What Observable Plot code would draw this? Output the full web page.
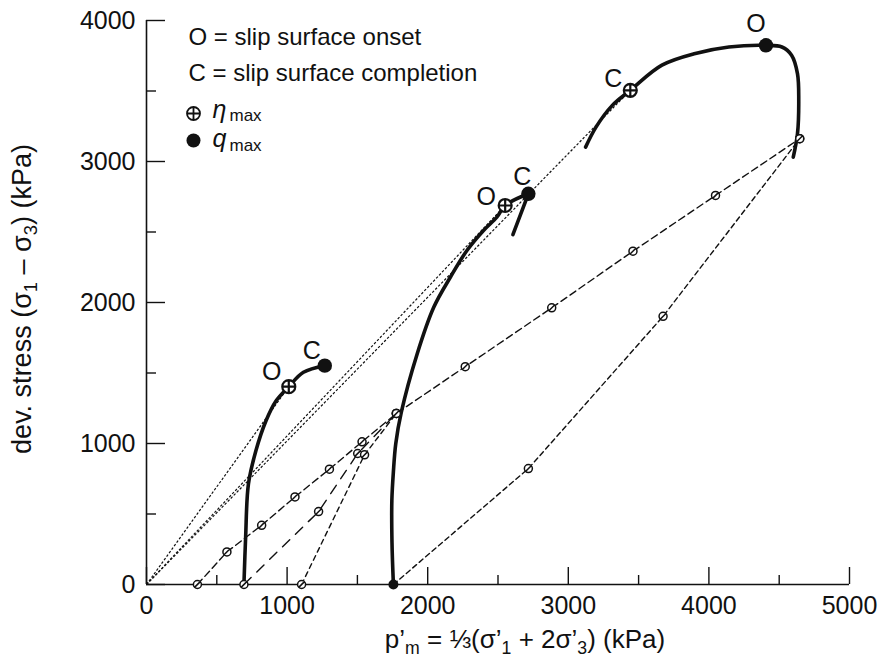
<!DOCTYPE html>
<html><head><meta charset="utf-8">
<script src="https://cdn.jsdelivr.net/npm/d3@7"></script>
<script src="https://cdn.jsdelivr.net/npm/@observablehq/plot@0.6"></script>
<style>
body{margin:0;background:#fff;}
#chart svg{display:block;}
</style>
</head><body><div id="chart"></div>
<script>
// ---- axis ticks ----
const xTicks = [0, 1000, 2000, 3000, 4000, 5000];
const xMinorTicks = [500, 1500, 2500, 3500, 4500];
const yTicks = [0, 1000, 2000, 3000, 4000];
const yMinorTicks = [500, 1500, 2500, 3500];

// ---- undrained stress paths [p'm, q] (thick solid) ----
const undrained1 = [[693,0],[705,333],[725,712],[778,948],[850,1161],[922,1303],[1012,1403],[1116,1505],[1268,1552]];
const undrained2 = [[1756,0],[1746,300],[1745,593],[1756,800],[1773,1000],[1812,1220],[1925,1635],[2043,1966],[2161,2179],[2279,2369],[2397,2511],[2492,2605],[2551,2688],[2716,2771]];
const undrained2Post = [[2716,2771],[2606,2482]];
const undrained3 = [[3123,3102],[3197,3244],[3313,3398],[3441,3505],[3666,3683],[3904,3766],[4142,3812],[4406,3824],[4519,3812],[4588,3754],[4630,3623],[4639,3434],[4630,3197],[4600,3031]];

// ---- markers ----
const etaMax = [[1012,1403],[2551,2688],[3441,3505]];
const qMax = [[1268,1552],[2716,2771],[4406,3824]];
const origin = [0, 0];

// ---- other stress paths (dashed, small circles) ----
const pathA = [[362,0],[572,231],[819,420],[1056,621],[1301,818],[1533,1012],[1777,1213],[2267,1545],[2882,1962],[3460,2364],[4047,2759],[4646,3162]];
const pathB = [[693,0],[1224,517],[1502,929],[1777,1213]];
const pathC = [[1103,0],[1551,920],[1777,1213]];
const pathD = [[1756,0],[2716,822],[3674,1902],[4646,3162]];

// ---- texts ----
const legendLines = ["O = slip surface onset", "C = slip surface completion"];
const legendSymbols = ["η", "q"];
const legendSub = "max";
const onsetText = "O";
const completionText = "C";
const xLabelParts = ["p’", "m", " = ⅓(σ’", "1", " + 2σ’", "3", ") (kPa)"];
const yLabelParts = ["dev. stress (σ", "1", " – σ", "3", ") (kPa)"];

const W = 882, H = 662;
const mL = 146, mR = 33, mT = 20, mB = 78;
const plotW = W - mL - mR, plotH = H - mT - mB;
const FONT = "'Liberation Sans', Arial, Helvetica, sans-serif";

const circleSlash = {draw(ctx, size){const r=Math.sqrt(size/Math.PI); ctx.moveTo(r,0); ctx.arc(0,0,r,0,2*Math.PI); const k=r*0.72; ctx.moveTo(-k,k); ctx.lineTo(k,-k);}};
const circlePlus = {draw(ctx, size){const r=Math.sqrt(size/Math.PI); ctx.moveTo(r,0); ctx.arc(0,0,r,0,2*Math.PI); ctx.moveTo(-r,0); ctx.lineTo(r,0); ctx.moveTo(0,-r); ctx.lineTo(0,r);}};

const px = d => d[0], qy = d => d[1];
const smallCircles = [...pathA, ...pathB, ...pathC, ...pathD.slice(1)];

function ptLabel(point, text, dx, dy) {
  return Plot.text([point], {x: px, y: qy, text: () => text, dx, dy, fontSize: 25, fill: "#111"});
}

const plot = Plot.plot({
  width: W, height: H,
  marginLeft: mL, marginRight: mR, marginTop: mT, marginBottom: mB,
  x: {domain: [xTicks[0], xTicks[xTicks.length-1]]},
  y: {domain: [yTicks[0], yTicks[yTicks.length-1]]},
  style: {fontFamily: FONT, background: "#fff", color: "#111"},
  marks: [
    // axis lines and inward ticks
    Plot.ruleY([yTicks[0]], {y: d => d, strokeWidth: 1.6, stroke: "#111"}),
    Plot.ruleX([xTicks[0]], {x: d => d, strokeWidth: 1.6, stroke: "#111"}),
    Plot.ruleX(xTicks, {x: d => d, insetTop: plotH - 17, strokeWidth: 1.4, stroke: "#111"}),
    Plot.ruleX(xMinorTicks, {x: d => d, insetTop: plotH - 9, strokeWidth: 1.4, stroke: "#111"}),
    Plot.ruleY(yTicks, {y: d => d, insetRight: plotW - 19, strokeWidth: 1.4, stroke: "#111"}),
    Plot.ruleY(yMinorTicks, {y: d => d, insetRight: plotW - 10, strokeWidth: 1.4, stroke: "#111"}),
    Plot.axisX(xTicks, {tickSize: 0, tickPadding: 12, tickFormat: d3.format("d"), fontSize: 25, label: null}),
    Plot.axisY(yTicks, {tickSize: 0, tickPadding: 11, tickFormat: d3.format("d"), fontSize: 25, label: null}),

    // dotted lines from origin to eta max
    Plot.link(etaMax, {x1: () => origin[0], y1: () => origin[1], x2: px, y2: qy, stroke: "#111", strokeWidth: 1.2, strokeDasharray: "2.5,1.8"}),

    // dashed stress paths
    Plot.line(pathA, {x: px, y: qy, stroke: "#111", strokeWidth: 1.4, strokeDasharray: "7,4"}),
    Plot.line(pathB, {x: px, y: qy, stroke: "#111", strokeWidth: 1.4, strokeDasharray: "10,8"}),
    Plot.line(pathC, {x: px, y: qy, stroke: "#111", strokeWidth: 1.4, strokeDasharray: "5,4"}),
    Plot.line(pathD, {x: px, y: qy, stroke: "#111", strokeWidth: 1.4, strokeDasharray: "5,3.5"}),

    // thick undrained paths
    Plot.line(undrained1, {x: px, y: qy, stroke: "#111", strokeWidth: 3.6, curve: "catmull-rom"}),
    Plot.line(undrained2, {x: px, y: qy, stroke: "#111", strokeWidth: 3.6, curve: "catmull-rom"}),
    Plot.line(undrained2Post, {x: px, y: qy, stroke: "#111", strokeWidth: 3.6}),
    Plot.line(undrained3, {x: px, y: qy, stroke: "#111", strokeWidth: 3.6, curve: "catmull-rom"}),

    // markers
    Plot.dot(smallCircles, {x: px, y: qy, r: 4, symbol: circleSlash, fill: "white", stroke: "#111", strokeWidth: 1.5}),
    Plot.dot([undrained2[0]], {x: px, y: qy, r: 5, fill: "#111", stroke: "none"}),
    Plot.dot(etaMax, {x: px, y: qy, r: 6.5, symbol: circlePlus, fill: "white", stroke: "#111", strokeWidth: 2.2}),
    Plot.dot(qMax, {x: px, y: qy, r: 7.2, fill: "#111", stroke: "none"}),

    // O / C labels
    ptLabel(etaMax[0], onsetText, -17, -15),
    ptLabel(qMax[0], completionText, -13, -15),
    ptLabel(etaMax[1], onsetText, -19, -8),
    ptLabel(qMax[1], completionText, -6, -17),
    ptLabel(etaMax[2], completionText, -17, -11),
    ptLabel(qMax[2], onsetText, -10, -21),

    // legend
    Plot.text([legendLines[0]], {frameAnchor: "top-left", text: d => d, dx: 42, dy: 17, fontSize: 24, textAnchor: "start", lineAnchor: "middle", fill: "#111"}),
    Plot.text([legendLines[1]], {frameAnchor: "top-left", text: d => d, dx: 42, dy: 53, fontSize: 24, textAnchor: "start", lineAnchor: "middle", fill: "#111"}),
    Plot.dot([0], {frameAnchor: "top-left", dx: 47, dy: 93, r: 6.5, symbol: circlePlus, fill: "white", stroke: "#111", strokeWidth: 1.8}),
    Plot.dot([0], {frameAnchor: "top-left", dx: 47, dy: 120, r: 7, fill: "#111"}),
    Plot.text([legendSymbols[0]], {frameAnchor: "top-left", text: d => d, dx: 66, dy: 89, fontSize: 25, fontStyle: "italic", textAnchor: "start", lineAnchor: "middle", fill: "#111"}),
    Plot.text([legendSub], {frameAnchor: "top-left", text: d => d, dx: 83, dy: 95, fontSize: 17, textAnchor: "start", lineAnchor: "middle", fill: "#111"}),
    Plot.text([legendSymbols[1]], {frameAnchor: "top-left", text: d => d, dx: 66, dy: 118, fontSize: 25, fontStyle: "italic", textAnchor: "start", lineAnchor: "middle", fill: "#111"}),
    Plot.text([legendSub], {frameAnchor: "top-left", text: d => d, dx: 83, dy: 125, fontSize: 17, textAnchor: "start", lineAnchor: "middle", fill: "#111"})
  ]
});

// axis titles with subscripts
const svg = d3.select(plot);
function addLabel(parts, attrs, size) {
  const t = svg.append("text").attr("fill", "#111").attr("font-size", size).attr("text-anchor", "middle")
    .attr("font-family", FONT);
  for (const [k, v] of Object.entries(attrs)) t.attr(k, v);
  parts.forEach((p, i) => {
    const ts = t.append("tspan").text(p);
    if (i % 2 === 1) ts.attr("font-size", size * 0.68).attr("dy", size * 0.22);
    else if (i > 0) ts.attr("dy", -size * 0.22);
  });
  return t;
}
addLabel(xLabelParts, {x: 525, y: 648}, 26);
addLabel(yLabelParts, {transform: "translate(31,299) rotate(-90)"}, 27);

document.getElementById("chart").appendChild(plot);
</script>
</body></html>
